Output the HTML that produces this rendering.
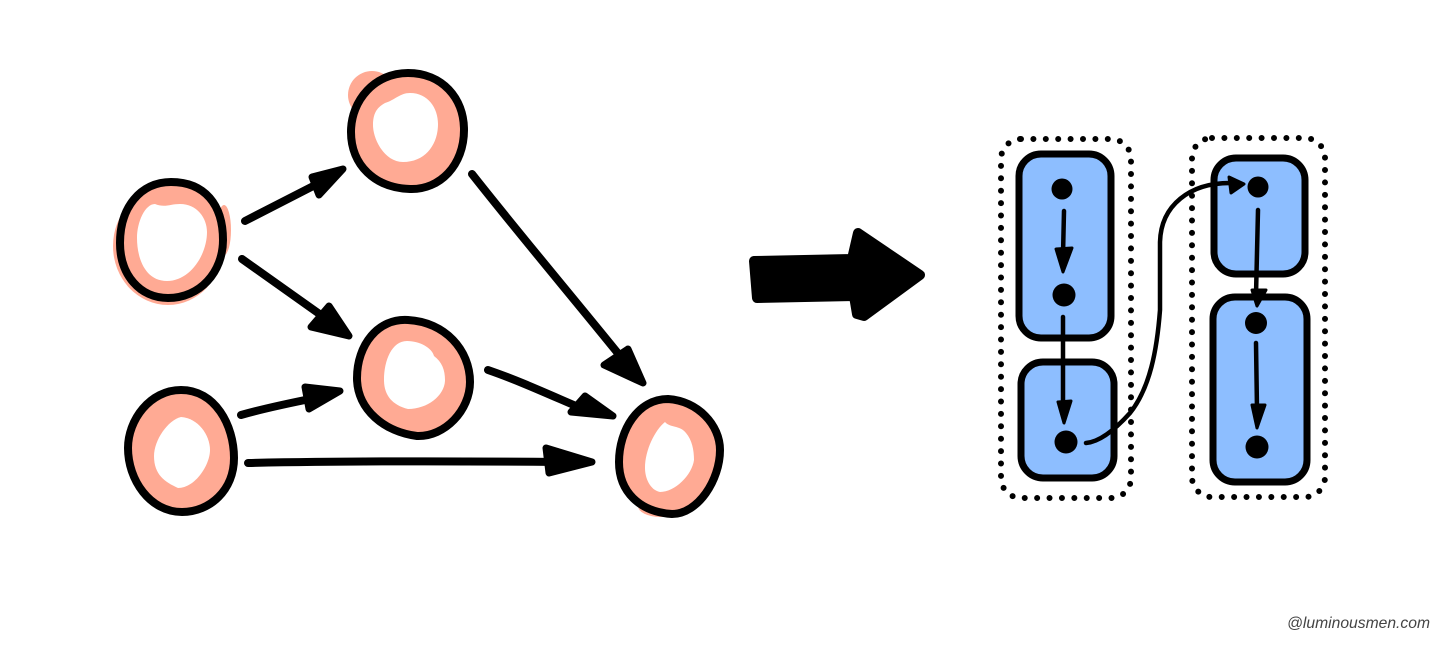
<!DOCTYPE html>
<html>
<head>
<meta charset="utf-8">
<style>
html,body{margin:0;padding:0;background:#fff;width:1456px;height:646px;overflow:hidden}
svg{display:block}
.o{fill:#FFAA94;stroke:#000;stroke-width:8;stroke-linejoin:round}
.h{fill:#fff}
.b{fill:#FFAA94}
.l{fill:none;stroke:#000;stroke-width:8;stroke-linecap:round;stroke-linejoin:round}
.a{fill:#000;stroke:#000;stroke-width:7;stroke-linejoin:round}
.box{fill:#8DBEFF;stroke:#000;stroke-width:7}
.dot{fill:none;stroke:#000;stroke-width:6;stroke-linecap:round;stroke-dasharray:0 12.4}
.t{fill:none;stroke:#000;stroke-width:4.5;stroke-linecap:round;stroke-linejoin:round}
.s{fill:#000;stroke:#000;stroke-width:3;stroke-linejoin:round}
</style>
</head>
<body>
<svg width="1456" height="646" viewBox="0 0 1456 646" xmlns="http://www.w3.org/2000/svg">
<rect width="1456" height="646" fill="#fff"/>

<!-- salmon bumps -->
<circle class="b" cx="372" cy="95" r="24"/>
<ellipse class="b" cx="168" cy="246" rx="55" ry="59"/>
<ellipse class="b" cx="224" cy="230" rx="7" ry="25"/>
<ellipse class="b" cx="660" cy="506" rx="22" ry="11"/>

<!-- nodes -->
<path class="o" d="M408 73C442 73 464 98 464 130C464 165 440 190 410 189C375 188 351 165 351 132C351 100 375 73 408 73Z"/>
<path class="h" d="M410 93C428 93 438 108 438 124C438 145 425 162 403 162C385 162 373 140 373 125C373 112 378 107 385 103C395 100 400 93 410 93Z"/>

<path class="o" d="M171 182C205 182 223 205 223 240C223 272 200 298 168 298C140 298 120 275 120 243C120 208 140 182 171 182Z"/>
<path class="h" d="M180 204C197 204 207 218 207 232C207 255 190 281 167 281C145 281 137 258 137 238C137 222 145 204 155 204C165 208 170 204 180 204Z"/>

<path class="o" d="M408 320C445 322 470 350 470 382C470 410 445 437 417 436C385 432 357 410 357 378C357 345 378 318 408 320Z"/>
<path class="h" d="M407 341C420 341 432 348 434 356C442 362 445 370 445 380C445 395 428 409 408 409C392 405 384 395 384 380C384 360 392 341 407 341Z"/>

<path class="o" d="M181 390C215 390 234 425 234 458C234 490 210 512 182 512C150 512 128 480 128 448C128 420 150 390 181 390Z"/>
<path class="h" d="M181 417C198 418 210 435 210 450C210 465 195 488 178 488C165 482 154 475 154 456C154 440 168 420 181 417Z"/>

<path class="o" d="M668 399C698 401 720 425 720 450C720 480 698 514 672 514C640 512 619 492 619 462C619 430 638 399 668 399Z"/>
<path class="h" d="M665 422C670 428 680 425 686 433C692 440 694 450 694 460C692 475 675 492 660 492C650 490 645 478 645 468C645 450 655 430 665 422Z"/>

<!-- left arrows -->
<path class="l" d="M245 221L325 180"/>
<path class="a" d="M343 169L312 177L319 195Z"/>
<path class="l" d="M242 259L335 325"/>
<path class="a" d="M349 336L329 306L311 327Z"/>
<path class="l" d="M472 174C520 235 575 300 625 362"/>
<path class="a" d="M643 383L628 349L604 365Z"/>
<path class="l" d="M488 370C520 381 550 395 590 412"/>
<path class="a" d="M613 416L585 396L571 412Z"/>
<path class="l" d="M241 415C262 409 285 404 315 398"/>
<path class="a" d="M340 391L305 387L309 409Z"/>
<path class="l" d="M248 463C340 461 450 461 560 462"/>
<path class="a" d="M592 462L546 448L549 473Z"/>

<!-- big arrow -->
<path d="M754 261L852 259L858 233L920 275L864 316L857 314L854 296L757 298Z" fill="#000" stroke="#000" stroke-width="10" stroke-linejoin="round"/>

<!-- dotted groups -->
<rect class="dot" x="1001" y="139" width="130" height="359" rx="20" ry="20"/>
<rect class="dot" x="1192" y="138" width="133" height="359" rx="20" ry="20"/>

<!-- blue boxes -->
<rect class="box" x="1019" y="154" width="92" height="184" rx="22" ry="22"/>
<rect class="box" x="1021" y="362" width="93" height="116" rx="22" ry="22"/>
<rect class="box" x="1214" y="158" width="91" height="116" rx="22" ry="22"/>
<rect class="box" x="1213" y="297" width="94" height="185" rx="22" ry="22"/>

<!-- black points -->
<circle cx="1062" cy="189" r="10.5"/>
<circle cx="1064" cy="295" r="11.5"/>
<circle cx="1066" cy="442" r="11.5"/>
<circle cx="1258" cy="187" r="10.5"/>
<circle cx="1256" cy="323" r="11"/>
<circle cx="1257" cy="447" r="11.5"/>

<!-- thin arrows -->
<path class="t" d="M1064 211L1063 255"/>
<path class="s" d="M1063 272L1056 249L1072 248Z"/>
<path class="t" d="M1063 317L1063 405"/>
<path class="s" d="M1064 423L1058 402L1071 401Z"/>
<path class="t" d="M1086 443C1098 442 1112 433 1130 413C1150 388 1157 350 1160 310L1160 242C1161 205 1190 183 1230 183"/>
<path class="s" d="M1244 184L1229 177L1231 193Z"/>
<path class="t" d="M1258 210L1256 295"/>
<path class="s" d="M1257 306L1252 290L1266 290Z"/>
<path class="t" d="M1256 343L1257 410"/>
<path class="s" d="M1257 428L1252 405L1265 405Z"/>

<!-- watermark -->
<text x="1287" y="628" font-family="'Liberation Sans',sans-serif" font-style="italic" font-size="16" fill="#444" textLength="143" lengthAdjust="spacingAndGlyphs">@luminousmen.com</text>
</svg>
</body>
</html>
